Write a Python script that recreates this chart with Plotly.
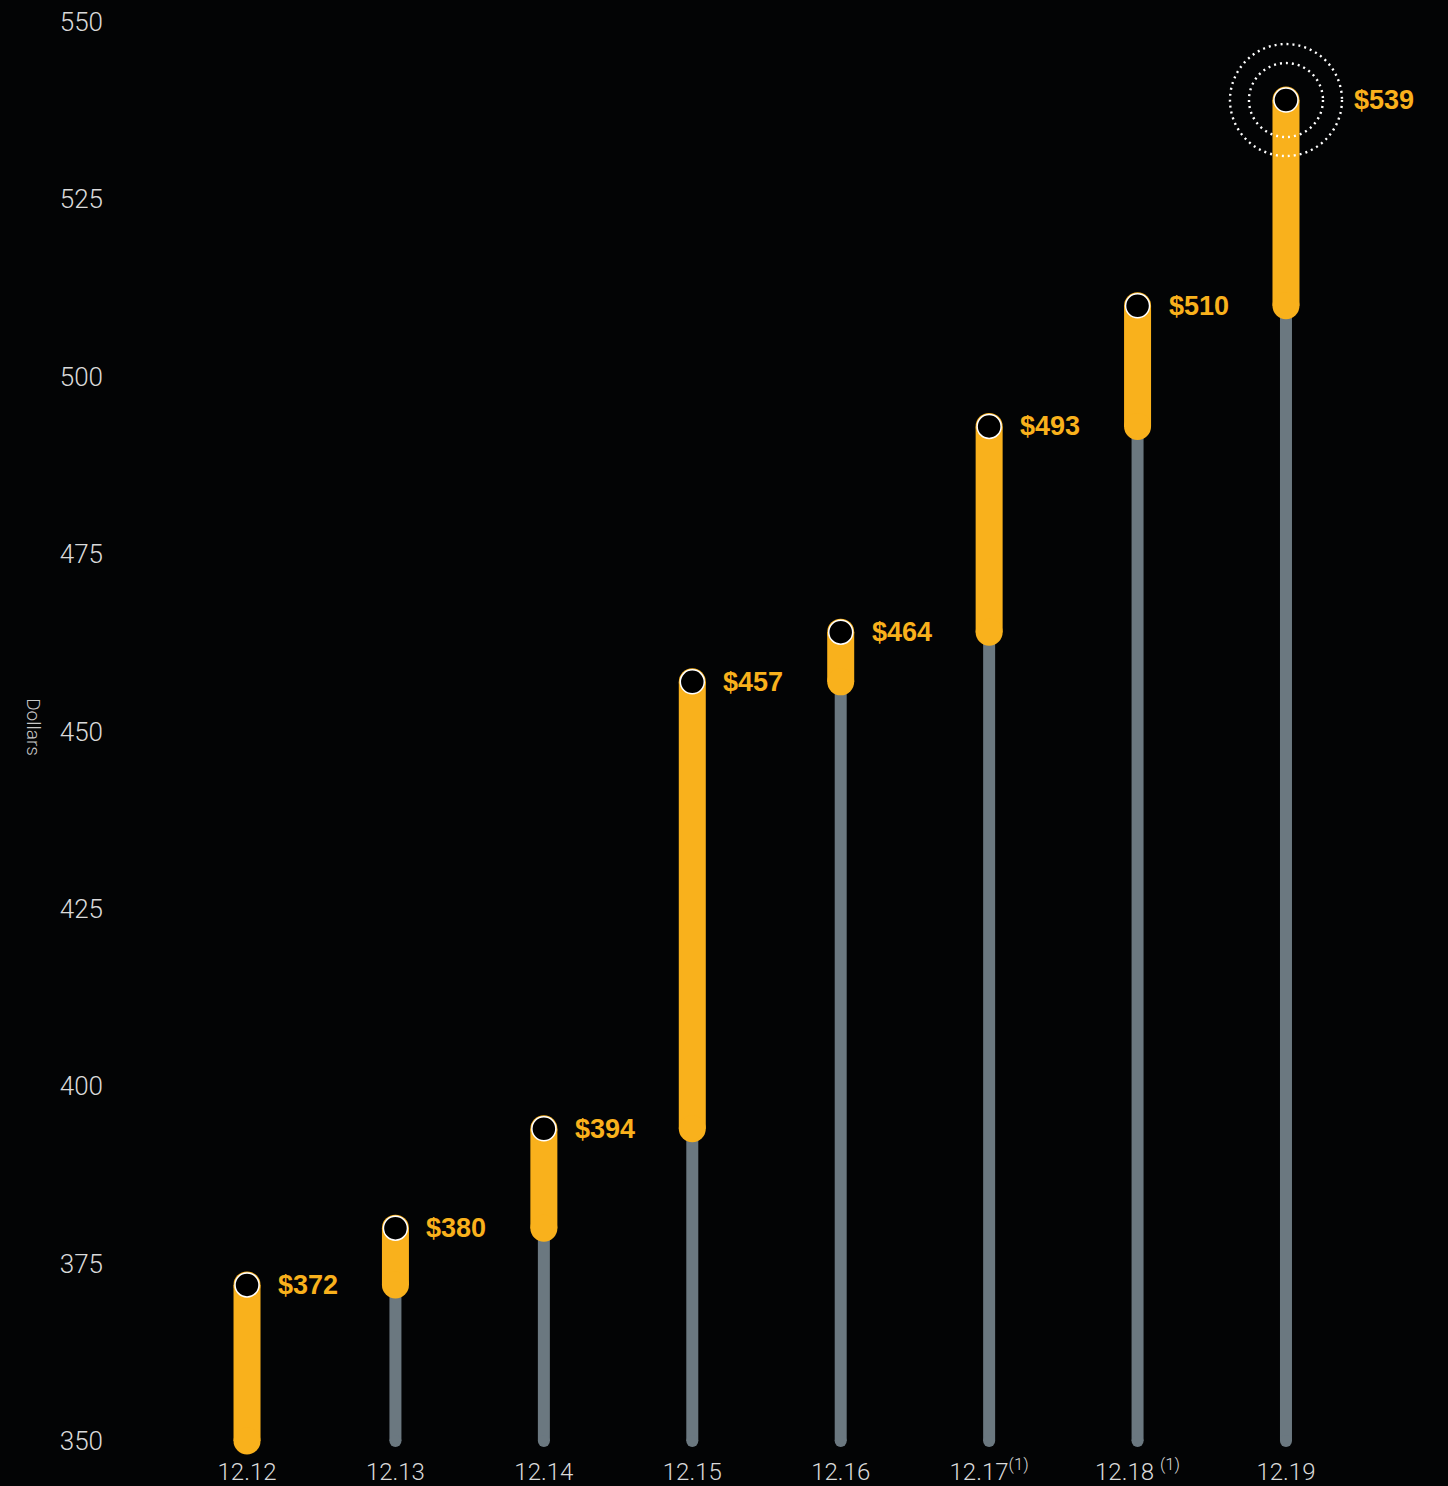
import plotly.graph_objects as go

# ---- data ----
categories = ["12.12", "12.13", "12.14", "12.15", "12.16", "12.17", "12.18", "12.19"]
tick_labels = ["12.12", "12.13", "12.14", "12.15", "12.16", "12.17<sup>(1)</sup>",
               "12.18 <sup>(1)</sup>", "12.19"]
values = [372, 380, 394, 457, 464, 493, 510, 539]
baseline = 350
y_ticks = [350, 375, 400, 425, 450, 475, 500, 525, 550]

ORANGE = "#F9B11C"
GRAY = "#6B7880"
BG = "#030405"
TXT = "#DADADA"

xs = list(range(len(categories)))
prev = [baseline] + values[:-1]

fig = go.Figure()

# gray stems: baseline -> previous value
gx, gy = [], []
for i in xs[1:]:
    gx += [i, i, None]
    gy += [baseline, prev[i], None]
fig.add_trace(go.Scatter(x=gx, y=gy, mode="lines+markers",
                         line=dict(color=GRAY, width=12),
                         marker=dict(color=GRAY, size=12, line=dict(width=0)),
                         cliponaxis=False, hoverinfo="skip", showlegend=False))

# orange increments: previous value -> current value
ox, oy = [], []
for i in xs:
    ox += [i, i, None]
    oy += [prev[i], values[i], None]
fig.add_trace(go.Scatter(x=ox, y=oy, mode="lines+markers",
                         line=dict(color=ORANGE, width=27),
                         marker=dict(color=ORANGE, size=27, line=dict(width=0)),
                         cliponaxis=False, hoverinfo="skip", showlegend=False))

# top circle markers
fig.add_trace(go.Scatter(x=xs, y=values, mode="markers",
                         marker=dict(color="#000000", size=24,
                                     line=dict(color="#FFFFFF", width=1.5)),
                         cliponaxis=False, hoverinfo="skip", showlegend=False))

# value labels
for i, v in zip(xs, values):
    fig.add_annotation(x=i, y=v, text=f"<b>${v}</b>", showarrow=False,
                       xanchor="left", yanchor="middle",
                       xshift=66 if i == xs[-1] else 29,
                       font=dict(family="Liberation Sans, Arial", size=27, color=ORANGE))

# dotted rings around the latest value
for r in (56, 37):
    fig.add_shape(type="circle", xref="x", yref="y",
                  xsizemode="pixel", ysizemode="pixel",
                  xanchor=xs[-1], yanchor=values[-1],
                  x0=-r, x1=r, y0=-r, y1=r,
                  line=dict(color="#FFFFFF", width=2.4, dash="2px,4px"),
                  layer="above")

# axis title
fig.add_annotation(xref="paper", yref="paper", x=-0.052, y=0.503,
                   text="Dollars", textangle=90, showarrow=False,
                   xanchor="center", yanchor="middle",
                   font=dict(family="Roboto, Liberation Sans", size=19, color="#C8C8C8", weight=300))

fig.update_layout(
    width=1448, height=1486,
    margin=dict(l=104, r=0, t=22, b=45),
    paper_bgcolor=BG, plot_bgcolor=BG,
    xaxis=dict(range=[-0.9636, 8.0916], tickvals=xs, ticktext=tick_labels,
               showgrid=False, zeroline=False, showline=False, ticks="",
               ticklabelstandoff=14,
               tickfont=dict(family="Roboto, Liberation Sans", size=24, color=TXT, weight=300)),
    yaxis=dict(range=[baseline, 550], tickvals=y_ticks, showgrid=False,
               zeroline=False, showline=False, ticks="",
               tickfont=dict(family="Roboto, Liberation Sans", size=26, color=TXT, weight=300)),
    showlegend=False,
)

fig.write_html("out.html")
